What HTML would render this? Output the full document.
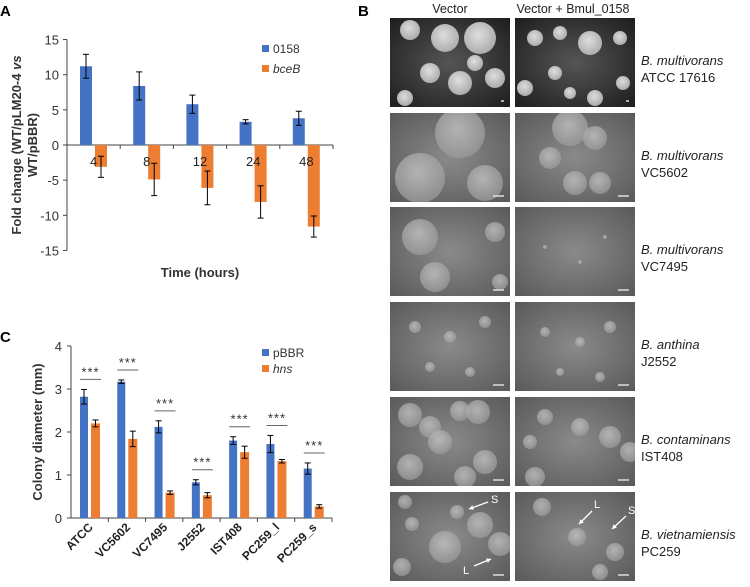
<!DOCTYPE html>
<html><head><meta charset="utf-8"><style>
body{margin:0;background:#fff}
svg text{font-family:"Liberation Sans",sans-serif}
</style></head><body>
<svg id="fig" width="750" height="582" xmlns="http://www.w3.org/2000/svg">
<defs id="defs">
<radialGradient id="dark" cx="50%" cy="50%" r="70%"><stop offset="0" stop-color="#555"/><stop offset="1" stop-color="#1e1e1e"/></radialGradient>
<radialGradient id="mid" cx="50%" cy="50%" r="70%"><stop offset="0" stop-color="#8a8a8a"/><stop offset="1" stop-color="#5a5a5a"/></radialGradient>
<radialGradient id="col" cx="45%" cy="40%" r="60%"><stop offset="0" stop-color="#c8c8c8"/><stop offset="1" stop-color="#9a9a9a"/></radialGradient>
<radialGradient id="colb" cx="45%" cy="40%" r="60%"><stop offset="0" stop-color="#f0f0f0"/><stop offset="1" stop-color="#b8b8b8"/></radialGradient>
</defs>
<g id="panelA"></g>
<g id="panelC"></g>
<g id="panelB"></g>
</svg>
<script>
const NS='http://www.w3.org/2000/svg';
function mk(p,t,a,txt){const e=document.createElementNS(NS,t);for(const k in a)e.setAttribute(k,a[k]);if(txt!==undefined)e.textContent=txt;p.appendChild(e);return e;}
// Panel A data
const aCats=['4','8','12','24','48'];
const aBlue=[11.2,8.4,5.8,3.3,3.8];
const aBlueErr=[1.7,2.0,1.3,0.3,1.0];
const aOrange=[-3.1,-4.9,-6.1,-8.1,-11.6];
const aOrangeErr=[1.5,2.3,2.4,2.3,1.5];
const aTicks=[15,10,5,0,-5,-10,-15];
// Panel C data
const cCats=['ATCC','VC5602','VC7495','J2552','IST408','PC259_l','PC259_s'];
const cBlue=[2.82,3.17,2.12,0.83,1.80,1.72,1.15];
const cBlueErr=[0.17,0.04,0.14,0.06,0.09,0.2,0.13];
const cOrange=[2.20,1.84,0.59,0.53,1.53,1.32,0.27];
const cOrangeErr=[0.08,0.18,0.04,0.06,0.14,0.04,0.04];
const cTicks=[0,1,2,3,4];
const BLUE='#4472c4',OR='#ed7d31';

// Panel A
(function(){
const g=document.getElementById('panelA');
const x0=67,x1=333,y=v=>145-v*7.03,bw=(x1-x0)/aCats.length;
let t=mk(g,'text',{x:0,y:16,'font-size':15,'font-weight':'bold'},'A');

aTicks.forEach(v=>{let e=mk(g,'text',{x:x0-8,y:y(v)+5,'font-size':13,'text-anchor':'end',fill:'#333'},v);

mk(g,'line',{x1:x0-4,x2:x0,y1:y(v),y2:y(v),stroke:'#444'});});
mk(g,'line',{x1:x0,x2:x0,y1:y(15),y2:y(-15),stroke:'#444'});
mk(g,'line',{x1:x0,x2:x1,y1:y(0),y2:y(0),stroke:'#444'});
aCats.forEach((c,i)=>{
 const cx=x0+bw*i;
 mk(g,'line',{x1:cx+bw,x2:cx+bw,y1:y(0),y2:y(0)+4,stroke:'#444'});
 let b=mk(g,'rect',{x:cx+13,y:y(aBlue[i]),width:12,height:y(0)-y(aBlue[i]),fill:BLUE});
 
 let o=mk(g,'rect',{x:cx+28,y:y(0),width:12,height:y(aOrange[i])-y(0),fill:OR});
 
 [[cx+19,aBlue[i],aBlueErr[i]],[cx+34,aOrange[i],aOrangeErr[i]]].forEach(([ex,v,er])=>{
  mk(g,'line',{x1:ex,x2:ex,y1:y(v+er),y2:y(v-er),stroke:'#000'});
  mk(g,'line',{x1:ex-3,x2:ex+3,y1:y(v+er),y2:y(v+er),stroke:'#000'});
  mk(g,'line',{x1:ex-3,x2:ex+3,y1:y(v-er),y2:y(v-er),stroke:'#000'});});
 let l=mk(g,'text',{x:cx+bw/2,y:y(0)+21,'font-size':13,'text-anchor':'middle',fill:'#222'},c);
 
});
let xt=mk(g,'text',{x:200,y:277,'font-size':13,'font-weight':'bold','text-anchor':'middle',fill:'#333'},'Time (hours)');

let yt=mk(g,'text',{transform:'translate(21,145) rotate(-90)','font-size':13,'font-weight':'bold','text-anchor':'middle',fill:'#333'});

const t1=mk(yt,'tspan',{x:0,dy:0},'Fold change (WT/pLM20-4 ');
mk(t1,'tspan',{'font-style':'italic'},'vs');
mk(yt,'tspan',{x:0,dy:16},'WT/pBBR)');
[[BLUE,'0158',51,false],[OR,'bceB',71,true]].forEach(([c,n,yy,it])=>{
 let le=mk(g,'g',{});
 mk(le,'rect',{x:262,y:yy-6,width:7,height:7,fill:c});
 let tx=mk(le,'text',{x:273,y:yy+2,'font-size':12,fill:'#333'},n);if(it)tx.setAttribute('font-style','italic');
});
})();

// Panel C
(function(){
const g=document.getElementById('panelC');
const x0=71,x1=332,y=v=>518-v*43,bw=(x1-x0)/cCats.length;
let t=mk(g,'text',{x:0,y:342,'font-size':15,'font-weight':'bold'},'C');

cTicks.forEach(v=>{let e=mk(g,'text',{x:x0-9,y:y(v)+5,'font-size':13,'text-anchor':'end',fill:'#333'},v);

mk(g,'line',{x1:x0-4,x2:x0,y1:y(v),y2:y(v),stroke:'#444'});});
mk(g,'line',{x1:x0,x2:x0,y1:y(4),y2:y(0),stroke:'#444'});
mk(g,'line',{x1:x0,x2:x1,y1:y(0),y2:y(0),stroke:'#444'});
cCats.forEach((c,i)=>{
 const cx=x0+bw*i;
 mk(g,'line',{x1:cx+bw,x2:cx+bw,y1:y(0),y2:y(0)+4,stroke:'#444'});
 let b=mk(g,'rect',{x:cx+9,y:y(cBlue[i]),width:8,height:y(0)-y(cBlue[i]),fill:BLUE});
 
 let o=mk(g,'rect',{x:cx+20,y:y(cOrange[i]),width:9,height:y(0)-y(cOrange[i]),fill:OR});
 
 [[cx+13,cBlue[i],cBlueErr[i]],[cx+24.5,cOrange[i],cOrangeErr[i]]].forEach(([ex,v,er])=>{
  mk(g,'line',{x1:ex,x2:ex,y1:y(v+er),y2:y(v-er),stroke:'#000'});
  mk(g,'line',{x1:ex-3,x2:ex+3,y1:y(v+er),y2:y(v+er),stroke:'#000'});
  mk(g,'line',{x1:ex-3,x2:ex+3,y1:y(v-er),y2:y(v-er),stroke:'#000'});});
 const top=y(Math.max(cBlue[i]+cBlueErr[i],cOrange[i]+cOrangeErr[i]))-10;
 mk(g,'line',{x1:cx+9,x2:cx+30,y1:top,y2:top,stroke:'#666'});
 let s=mk(g,'text',{x:cx+19.5,y:top-3,'font-size':13,'text-anchor':'middle',fill:'#333','letter-spacing':'1'},'***');
 
 let l=mk(g,'text',{transform:`translate(${cx+bw/2+4},${y(0)+10}) rotate(-45)`,'font-size':12,'font-weight':'bold','text-anchor':'end',fill:'#222'},c);
 
});
let yt=mk(g,'text',{transform:'translate(42,432) rotate(-90)','font-size':13,'font-weight':'bold','text-anchor':'middle',fill:'#333'},'Colony diameter (mm)');

[[BLUE,'pBBR',355,false],[OR,'hns',371,true]].forEach(([c,n,yy,it])=>{
 let le=mk(g,'g',{});
 mk(le,'rect',{x:262,y:yy-6,width:7,height:7,fill:c});
 let tx=mk(le,'text',{x:273,y:yy+2,'font-size':12,fill:'#333'},n);if(it)tx.setAttribute('font-style','italic');
});
})();

// Panel B (photos)
(function(){
const g=document.getElementById('panelB');
const defs=document.getElementById('defs');
let t=mk(g,'text',{x:358,y:16,'font-size':15,'font-weight':'bold'},'B');

let h1=mk(g,'text',{x:450,y:13,'font-size':12.5,'text-anchor':'middle',fill:'#222'},'Vector');

let h2=mk(g,'text',{x:573,y:13,'font-size':12.5,'text-anchor':'middle',fill:'#222'},'Vector + Bmul_0158');

const rowsY=[18,113,207,302,397,492];
const species=[['B. multivorans','ATCC 17616'],['B. multivorans','VC5602'],['B. multivorans','VC7495'],['B. anthina','J2552'],['B. contaminans','IST408'],['B. vietnamiensis','PC259']];
const colonies=[
 [[[20,12,10],[55,20,14],[90,20,16],[40,55,10],[70,65,12],[15,80,8],[85,45,8],[105,60,10]],[[20,20,8],[45,15,7],[75,25,12],[105,20,7],[40,55,7],[10,70,8],[80,80,8],[55,75,6],[108,65,7]]],
 [[[70,20,25],[30,65,25],[95,70,18]],[[55,15,18],[80,25,12],[35,45,11],[60,70,12],[85,70,11]]],
 [[[30,30,18],[105,25,10],[45,70,15],[110,75,8]],[[30,40,2],[65,55,2],[90,30,2]]],
 [[[25,25,6],[60,35,6],[95,20,6],[40,65,5],[80,70,5]],[[30,30,5],[65,40,5],[95,25,6],[45,70,4],[85,75,5]]],
 [[[20,18,12],[40,30,11],[70,14,10],[88,15,12],[50,45,12],[20,70,13],[95,65,12],[75,80,11]],[[30,20,8],[65,30,9],[95,40,11],[15,45,7],[20,80,10],[115,55,10]]],
 [[[15,10,7],[67,20,7],[22,32,7],[90,33,13],[55,55,16],[110,52,12],[12,75,9]],[[27,15,9],[62,45,9],[100,60,9],[85,80,8]]]
];
rowsY.forEach((ry,r)=>{
 [390,515].forEach((cx,ci)=>{
  const cp=mk(defs,'clipPath',{id:'cp'+r+'_'+ci});
  mk(cp,'rect',{x:cx,y:ry,width:120,height:89});
  const im=mk(g,'g',{'clip-path':'url(#cp'+r+'_'+ci+')'});
  
  
  mk(im,'rect',{x:cx,y:ry,width:120,height:89,fill:r===0?'url(#dark)':'url(#mid)'});
  colonies[r][ci].forEach(([px,py,pr])=>{
   mk(im,'circle',{cx:cx+px,cy:ry+py,r:pr,fill:r===0?'url(#colb)':'url(#col)',opacity:r===0?0.9:0.75});
  });
  mk(im,'line',{x1:cx+(r===0?111:103),x2:cx+114,y1:ry+83,y2:ry+83,stroke:'#ddd','stroke-width':1.5});
 });
 const lb=mk(g,'text',{x:641,y:ry+47,'font-size':13,fill:'#222'});
 
 mk(lb,'tspan',{x:641,'font-style':'italic'},species[r][0]);
 mk(lb,'tspan',{x:641,dy:17},species[r][1]);
});
// arrows: label, text x,y, tail x,y, head x,y
[['S',491,503,488,502,469,509],['L',463,574,474,566,491,559],['L',594,508,592,511,579,524],['S',628,514,626,516,612,529]].forEach(([lab,tx,ty,x1,y1,x2,y2])=>{
 const a=mk(g,'g',{});
 mk(a,'line',{x1:x1,y1:y1,x2:x2,y2:y2,stroke:'#fff','stroke-width':1.3});
 const ang=Math.atan2(y2-y1,x2-x1),L=5;
 const p=[[x2,y2],[x2-L*Math.cos(ang-0.5),y2-L*Math.sin(ang-0.5)],[x2-L*Math.cos(ang+0.5),y2-L*Math.sin(ang+0.5)]];
 mk(a,'polygon',{points:p.map(q=>q.join(',')).join(' '),fill:'#fff'});
 mk(a,'text',{x:tx,y:ty,'font-size':11,fill:'#fff'},lab);
});
})();
</script>
</body></html>
